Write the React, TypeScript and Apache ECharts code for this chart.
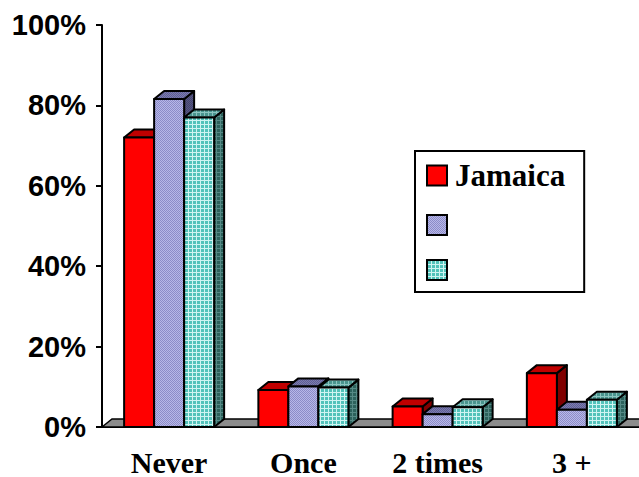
import React, { useEffect, useRef } from "react";
import * as echarts from "echarts";

const categories = ["Never", "Once", "2 times", "3 +"];
const seriesNames = ["Jamaica", "Series 2", "Series 3"];
const jamaica = [72, 9.2, 5.1, 13.4];
const series2 = [81.6, 10.1, 3.2, 4.3];
const series3 = [77, 9.8, 4.9, 6.8];
const yTicks = { min: 0, max: 100, interval: 20 };

const DX = 10;
const DY = 8;
const BAR_FRAC = 0.2235;

function tile(size: number, fn: (x: number, y: number) => string) {
  const c = document.createElement("canvas");
  c.width = size;
  c.height = size;
  const ctx = c.getContext("2d")!;
  for (let y = 0; y < size; y++)
    for (let x = 0; x < size; x++) {
      ctx.fillStyle = fn(x, y);
      ctx.fillRect(x, y, 1, 1);
    }
  return { image: c, repeat: "repeat", imageWidth: size, imageHeight: size } as any;
}
const checker = (a: string, b: string) => tile(2, (x, y) => ((x + y) % 2 === 0 ? a : b));
const grid = (line: string, cell: string) => tile(4, (x, y) => (x === 0 || y === 0 ? line : cell));

export default function App() {
  const ref = useRef<HTMLDivElement>(null);
  useEffect(() => {
    document.body.style.margin = "0";
    const chart = echarts.init(ref.current!, null, { renderer: "svg" });

    const faces = [
      { front: "#ff0000", top: "#c00000", side: "#800000" },
      {
        front: checker("#8c8cc8", "#b8b8e8"),
        top: checker("#5f5f94", "#7c7cb0"),
        side: checker("#44446e", "#585884"),
      },
      {
        front: grid("#d0f4f2", "#52c2ba"),
        top: grid("#8cc4c0", "#4a948e"),
        side: grid("#568a86", "#2c625c"),
      },
    ];
    const values = [jamaica, series2, series3];
    const edge = { stroke: "#000", lineWidth: 2, lineJoin: "round" };

    const barSeries = values.map((vals, si) => ({
      type: "custom",
      name: seriesNames[si],
      itemStyle: { color: faces[si].front },
      data: vals.map((v, i) => [i, v]),
      encode: { x: 0, y: 1 },
      renderItem: (params: any, api: any) => {
        const c = api.value(0);
        const v = api.value(1);
        const base = api.coord([c, 0]);
        const top = api.coord([c, v]);
        const band = api.size([1, 0])[0];
        const w = band * BAR_FRAC;
        const x0 = base[0] - 1.5 * w + si * w;
        const x1 = x0 + w;
        const yb = base[1];
        const yt = top[1];
        const f = faces[si];
        return {
          type: "group",
          children: [
            {
              type: "polygon",
              shape: { points: [[x1, yt], [x1 + DX, yt - DY], [x1 + DX, yb - DY], [x1, yb]] },
              style: { fill: f.side, ...edge },
            },
            {
              type: "polygon",
              shape: { points: [[x0, yt], [x0 + DX, yt - DY], [x1 + DX, yt - DY], [x1, yt]] },
              style: { fill: f.top, ...edge },
            },
            {
              type: "rect",
              shape: { x: x0, y: yt, width: w, height: yb - yt },
              style: { fill: f.front, ...edge },
            },
          ],
        };
      },
    }));

    const floorSeries = {
      type: "custom",
      name: "floor",
      silent: true,
      data: [[0, 0]],
      encode: { x: 0, y: 1 },
      renderItem: (params: any) => {
        const cs = params.coordSys;
        const x0 = cs.x;
        const x1 = cs.x + cs.width;
        const yb = cs.y + cs.height;
        return {
          type: "polygon",
          shape: { points: [[x0, yb], [x0 + DX, yb - DY], [x1 + DX, yb - DY], [x1, yb]] },
          style: { fill: "#8c8c8c", stroke: "#000", lineWidth: 1.5 },
        };
      },
    };

    chart.setOption({
      animation: false,
      backgroundColor: "#fff",
      grid: { left: 102, right: 0, top: 25, bottom: 48, containLabel: false },
      legend: {
        orient: "vertical",
        left: 415,
        top: 151,
        padding: [9, 19, 11, 11],
        itemWidth: 20,
        itemHeight: 20,
        itemGap: 23,
        borderColor: "#000",
        borderWidth: 2,
        backgroundColor: "#fff",
        selectedMode: false,
        formatter: (name: string) => (name === "Jamaica" ? name : ""),
        textStyle: {
          fontFamily: "Liberation Serif",
          fontWeight: "bold",
          fontSize: 31,
          lineHeight: 20,
          color: "#000",
          padding: [0, 0, 0, 3],
        },
        data: seriesNames.map((n, i) => ({
          name: n,
          icon: "rect",
          itemStyle: { color: faces[i].front, borderColor: "#000", borderWidth: 2 },
        })),
      },
      xAxis: {
        type: "category",
        data: categories,
        axisLine: { lineStyle: { color: "#000", width: 2 } },
        axisTick: { length: 7, lineStyle: { color: "#000", width: 2 } },
        axisLabel: {
          interval: 0,
          margin: 20,
          fontFamily: "Liberation Serif",
          fontWeight: "bold",
          fontSize: 30,
          color: "#000",
        },
      },
      yAxis: {
        type: "value",
        min: yTicks.min,
        max: yTicks.max,
        interval: yTicks.interval,
        axisLine: { show: true, lineStyle: { color: "#000", width: 2 } },
        axisTick: { show: true, length: 6, lineStyle: { color: "#000", width: 2 } },
        splitLine: { show: false },
        axisLabel: {
          formatter: "{value}%",
          margin: 16,
          fontFamily: "Liberation Sans",
          fontWeight: "bold",
          fontSize: 29,
          color: "#000",
        },
      },
      series: [floorSeries, ...barSeries],
    });
    return () => chart.dispose();
  }, []);
  return <div ref={ref} style={{ width: 639, height: 477 }} />;
}
